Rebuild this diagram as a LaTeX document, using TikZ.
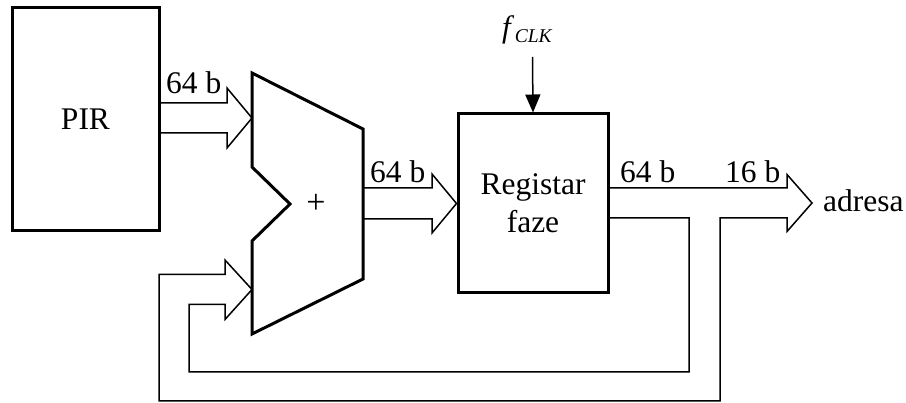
\documentclass[tikz,border=0pt]{standalone}
\usepackage{fontspec}
\setmainfont{Liberation Serif}
\usetikzlibrary{arrows.meta}
\tikzset{
  blk/.style={draw, line width=3pt, rectangle, inner sep=0pt},
  bus/.style={line width=1.5pt, line join=miter},
  lbl/.style={anchor=base west, inner sep=0pt, font=\fontsize{31.5}{36}\selectfont},
}
\begin{document}
\begin{tikzpicture}[x=1pt, y=-1pt]
\useasboundingbox (0,0) rectangle (906,403);

% blocks
\node[blk, minimum width=147pt, minimum height=223.5pt, font=\fontsize{31.5}{36}\selectfont] (pir) at (85.5,119.25) {PIR};
\node[blk, minimum width=150pt, minimum height=179pt, align=center, font=\fontsize{31.5}{38}\selectfont] (reg) at (533,203.5) {Registar\\faze};

% adder
\draw[line width=3pt, line join=miter] (252,73) -- (363,129) -- (363,279) -- (252,334) -- (252,241) -- (290,204) -- (252,167) -- cycle;
\node[inner sep=0pt, font=\fontsize{34}{36}\selectfont] (plus) at (316,204) {+};
\coordinate (addA) at (252,118);
\coordinate (addB) at (252,289.5);

% bus PIR -> adder
\draw[bus] (159,103) -- (227,103) -- (227,88) -- (addA) -- (227,148) -- (227,133) -- (159,133);
% bus adder -> register
\draw[bus] (364,188) -- (432,188) -- (432,174) -- (reg.west) -- (432,233) -- (432,219) -- (364,219);
% output bus with feedback
\coordinate (out) at (812,203);
\draw[bus] (608,188) -- (787,188) -- (787,174.5) -- (out) -- (787,231.5) -- (787,218)
  -- (720,218) -- (720,401) -- (159,401) -- (159,274.5) -- (225,274.5) -- (225,260)
  -- (addB) -- (225,319.5) -- (225,304.5) -- (189,304.5) -- (189,372) -- (689,372)
  -- (689,218) -- (608,218);

% clock
\coordinate (clk) at (532.5,57);
\draw[line width=1.5pt, -{Triangle[length=18pt,width=15pt]}] (clk) -- (reg.north);
\node[anchor=base west, inner sep=0pt] (fclk) at (502,38) {\fontsize{31}{34}\selectfont\textit{f}\kern0.5pt\raisebox{-5pt}{\fontsize{19.5}{22}\selectfont\textit{CLK}}};

% labels
\node[lbl] (l1) at (166,94) {64 b};
\node[lbl] (l2) at (370,183) {64 b};
\node[lbl] (l3) at (620,183) {64 b};
\node[lbl] (l4) at (725,183) {16 b};
\node[lbl] (adr) at (823,212) {adresa};
\end{tikzpicture}
\end{document}
